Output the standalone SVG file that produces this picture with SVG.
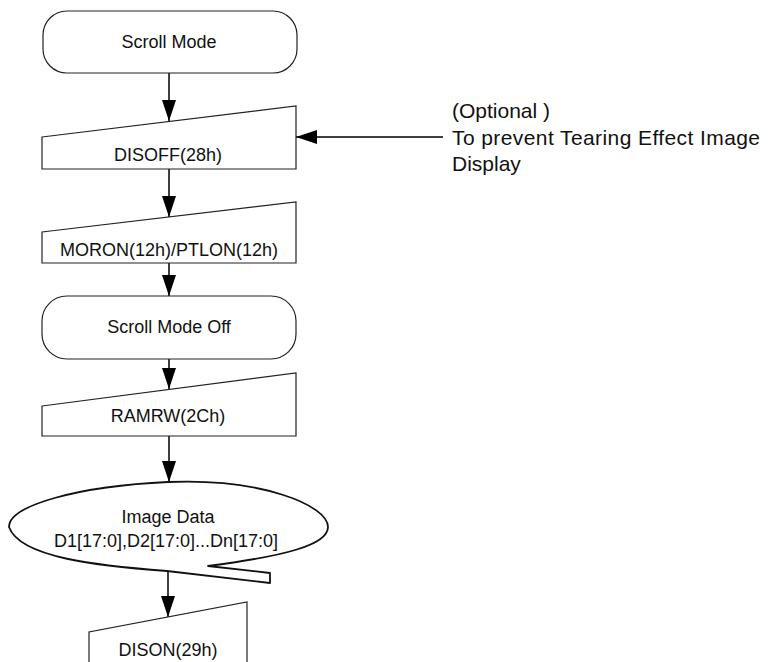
<svg xmlns="http://www.w3.org/2000/svg" width="770" height="662" viewBox="0 0 770 662">
<style>
  .shape { fill: #fff; stroke: #222; stroke-width: 1.2; }
  .blob { fill: #fff; stroke: #111; stroke-width: 1.8; stroke-linejoin: round; }
  .lbl { font-family: "Liberation Sans", Arial, sans-serif; font-size: 18px; fill: #111; text-anchor: middle; }
  .note { font-family: "Liberation Sans", Arial, sans-serif; font-size: 21px; fill: #111; }
  .conn { stroke: #000; stroke-width: 1.5; fill: none; marker-end: url(#arr); }
</style>
<defs>
  <marker id="arr" markerUnits="userSpaceOnUse" markerWidth="21" markerHeight="14" refX="21" refY="7" orient="auto">
    <path d="M0,0 L21,7 L0,14 Z" fill="#000"/>
  </marker>
</defs>
<rect width="770" height="662" fill="#fff"/>

<g id="connectors">
  <line class="conn" x1="169" y1="73" x2="169" y2="121"/>
  <line class="conn" x1="169" y1="169" x2="169" y2="217"/>
  <line class="conn" x1="169" y1="263" x2="169" y2="296"/>
  <line class="conn" x1="169" y1="359" x2="169" y2="389"/>
  <line class="conn" x1="169" y1="436" x2="169" y2="482"/>
  <line class="conn" x1="168" y1="571" x2="168" y2="617"/>
  <line class="conn" x1="443" y1="137" x2="296" y2="137"/>
</g>

<g id="scroll-mode">
  <path class="shape" d="M67,11 L273,11 A24,24 0 0 1 297,35 L297,49 A24,24 0 0 1 273,73 L67,73 A24,24 0 0 1 43,49 L43,35 A24,24 0 0 1 67,11 Z"/>
  <text class="lbl" x="169" y="48">Scroll Mode</text>
</g>

<g id="disoff">
  <path class="shape" d="M42,137 L296,106 L296,169 L42,169 Z"/>
  <text class="lbl" x="168" y="161">DISOFF(28h)</text>
</g>

<g id="moron">
  <path class="shape" d="M42,232 L296,202 L296,263 L42,263 Z"/>
  <text class="lbl" x="169" y="256">MORON(12h)/PTLON(12h)</text>
</g>

<g id="scroll-mode-off">
  <path class="shape" d="M67,296 L271,296 A25,25 0 0 1 296,321 L296,334 A25,25 0 0 1 271,359 L67,359 A25,25 0 0 1 42,334 L42,321 A25,25 0 0 1 67,296 Z"/>
  <text class="lbl" x="169" y="333">Scroll Mode Off</text>
</g>

<g id="ramrw">
  <path class="shape" d="M42,406 L296,373 L296,436 L42,436 Z"/>
  <text class="lbl" x="168" y="422">RAMRW(2Ch)</text>
</g>

<g id="image-data">
  <path class="blob" d="M9,527 C9,505 80,486 168,482 C260,478 328,505 328,527 C328,545 285,556 208,566 L270,573 L270,583 L167,571 C100,566 20,558 9,527 Z"/>
  <text class="lbl" x="168" y="523">Image Data</text>
  <text class="lbl" x="166" y="547">D1[17:0],D2[17:0]...Dn[17:0]</text>
</g>

<g id="dison">
  <path class="shape" d="M89,670 L89,632 L247,602 L247,670"/>
  <text class="lbl" x="168" y="656">DISON(29h)</text>
</g>

<g id="note">
  <text class="note" x="452" y="118">(Optional )</text>
  <text class="note" x="452" y="145" textLength="308" lengthAdjust="spacing">To prevent Tearing Effect Image</text>
  <text class="note" x="452" y="171">Display</text>
</g>
</svg>
